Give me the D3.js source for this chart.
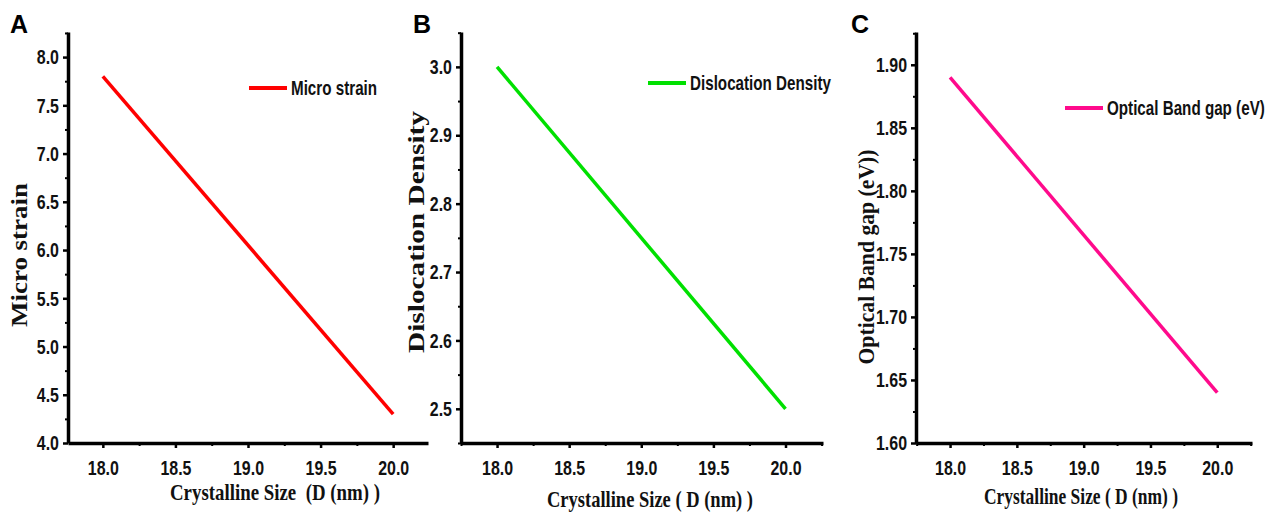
<!DOCTYPE html>
<html>
<head>
<meta charset="utf-8">
<script src="https://cdn.jsdelivr.net/npm/d3@7"></script>
<style>
  html, body { margin: 0; padding: 0; background: #fff; }
  svg { display: block; }
  .tick-label { font-family: "Liberation Sans", Arial, sans-serif; font-weight: bold; font-size: 21px; fill: #111; }
  .legend-label { font-family: "Liberation Sans", Arial, sans-serif; font-weight: bold; font-size: 20px; fill: #111; }
  .axis-title { font-family: "Liberation Serif", "Times New Roman", serif; font-weight: bold; font-size: 23px; fill: #111; white-space: pre; }
  .panel-letter { font-family: "Liberation Sans", Arial, sans-serif; font-weight: bold; font-size: 25px; fill: #000; }
</style>
</head>
<body>
<script>
// Data
var sizeNm = [18.0, 20.0];
var microStrain = [7.8, 4.3];
var dislocationDensity = [3.0, 2.5];
var bandGap = [1.89, 1.64];

var xTicks = [18.0, 18.5, 19.0, 19.5, 20.0];
var strainTicks = [4.0, 4.5, 5.0, 5.5, 6.0, 6.5, 7.0, 7.5, 8.0];
var densityTicks = [2.5, 2.6, 2.7, 2.8, 2.9, 3.0];
var gapTicks = [1.60, 1.65, 1.70, 1.75, 1.80, 1.85, 1.90];

var width = 1268, height = 517;
var narrow = 0.76; // horizontal squeeze for the condensed sans labels

var panels = [
    {
        letter: "A", values: microStrain, yTicks: strainTicks, yFormat: d3.format(".1f"),
        xDomain: [17.76, 20.24], yDomain: [4.0, 8.26],
        left: 68, right: 428, top: 32, bottom: 443,
        color: "#ff0000", legend: "Micro strain",
        legendX: 249, legendY: 88,
        yTitle: "Micro strain", yTitleX: 19, yTitleY: 255, yTitleLen: 144,
        xTitle: "Crystalline Size  (D (nm) )", xTitleX: 275, xTitleY: 500, xTitleLen: 210,
        letterX: 10, letterY: 33
    },
    {
        letter: "B", values: dislocationDensity, yTicks: densityTicks, yFormat: d3.format(".1f"),
        xDomain: [17.75, 20.26], yDomain: [2.45, 3.051],
        left: 461, right: 823, top: 32, bottom: 443,
        color: "#00e000", legend: "Dislocation Density",
        legendX: 648, legendY: 83,
        yTitle: "Dislocation Density", yTitleX: 416, yTitleY: 232, yTitleLen: 242,
        xTitle: "Crystalline Size ( D (nm) )", xTitleX: 650, xTitleY: 507, xTitleLen: 206,
        letterX: 413, letterY: 33
    },
    {
        letter: "C", values: bandGap, yTicks: gapTicks, yFormat: d3.format(".2f"),
        xDomain: [17.745, 20.26], yDomain: [1.60, 1.926],
        left: 916, right: 1252, top: 32, bottom: 443,
        color: "#ff0a8c", legend: "Optical Band gap (eV)",
        legendX: 1065, legendY: 108,
        yTitle: "Optical Band gap (eV))", yTitleX: 866, yTitleY: 257, yTitleLen: 215,
        xTitle: "Crystalline Size ( D (nm) )", xTitleX: 1081, xTitleY: 504, xTitleLen: 194,
        letterX: 851, letterY: 33
    }
];

var svg = d3.select("body").append("svg")
    .attr("width", width)
    .attr("height", height);

function midpoints(ticks) {
    var step = ticks[1] - ticks[0];
    var out = [ticks[0] - step / 2];
    ticks.forEach(function (t) { out.push(t + step / 2); });
    return out;
}

function styleMinor(a) {
    a.select(".domain").remove();
    a.selectAll("line").attr("stroke", "#000").attr("stroke-width", 2);
}

panels.forEach(function (p) {
    var g = svg.append("g");
    var x = d3.scaleLinear().domain(p.xDomain).range([p.left, p.right]);
    var y = d3.scaleLinear().domain(p.yDomain).range([p.bottom, p.top]);

    // minor ticks halfway between the labelled ones
    var xMinor = midpoints(xTicks).filter(function (v) { return v >= p.xDomain[0] && v <= p.xDomain[1]; });
    var yMinor = midpoints(p.yTicks).filter(function (v) { return v >= p.yDomain[0] && v <= p.yDomain[1]; });

    g.append("g")
        .attr("transform", "translate(0," + p.bottom + ")")
        .call(d3.axisBottom(x).tickValues(xMinor).tickSize(3).tickFormat(""))
        .call(styleMinor);
    g.append("g")
        .attr("transform", "translate(" + p.left + ",0)")
        .call(d3.axisLeft(y).tickValues(yMinor).tickSize(3).tickFormat(""))
        .call(styleMinor);

    // major axes
    var xAxis = g.append("g")
        .attr("transform", "translate(0," + p.bottom + ")")
        .call(d3.axisBottom(x).tickValues(xTicks).tickSize(5).tickSizeOuter(0).tickPadding(12).tickFormat(d3.format(".1f")));
    var yAxis = g.append("g")
        .attr("transform", "translate(" + p.left + ",0)")
        .call(d3.axisLeft(y).tickValues(p.yTicks).tickSize(5).tickSizeOuter(0).tickPadding(4).tickFormat(p.yFormat));

    [xAxis, yAxis].forEach(function (a) {
        a.attr("font-size", null).attr("font-family", null);
        a.select(".domain").attr("stroke", "#000").attr("stroke-width", 3.5);
        a.selectAll(".tick line").attr("stroke", "#000").attr("stroke-width", 2.5);
        a.selectAll(".tick text")
            .attr("class", "tick-label")
            .attr("fill", null)
            .attr("x", function () { return +d3.select(this).attr("x") / narrow; })
            .attr("transform", "scale(" + narrow + ",1)");
    });

    // data line
    var pts = sizeNm.map(function (d, i) { return [d, p.values[i]]; });
    g.append("path")
        .datum(pts)
        .attr("fill", "none")
        .attr("stroke", p.color)
        .attr("stroke-width", 3.5)
        .attr("d", d3.line().x(function (d) { return x(d[0]); }).y(function (d) { return y(d[1]); }));

    // legend
    g.append("line")
        .attr("x1", p.legendX).attr("x2", p.legendX + 38)
        .attr("y1", p.legendY).attr("y2", p.legendY)
        .attr("stroke", p.color).attr("stroke-width", 4);
    g.append("text")
        .attr("class", "legend-label")
        .attr("transform", "translate(" + (p.legendX + 42) + "," + (p.legendY + 7) + ") scale(" + narrow + ",1)")
        .text(p.legend);

    // axis titles
    g.append("text")
        .attr("class", "axis-title")
        .attr("text-anchor", "middle")
        .attr("transform", "translate(" + p.yTitleX + "," + p.yTitleY + ") rotate(-90)")
        .attr("dy", "0.35em")
        .attr("textLength", p.yTitleLen)
        .attr("lengthAdjust", "spacingAndGlyphs")
        .text(p.yTitle);
    g.append("text")
        .attr("class", "axis-title")
        .attr("text-anchor", "middle")
        .attr("x", p.xTitleX).attr("y", p.xTitleY)
        .attr("textLength", p.xTitleLen)
        .attr("lengthAdjust", "spacingAndGlyphs")
        .text(p.xTitle);

    g.append("text")
        .attr("class", "panel-letter")
        .attr("x", p.letterX).attr("y", p.letterY)
        .text(p.letter);
});
</script>
</body>
</html>
